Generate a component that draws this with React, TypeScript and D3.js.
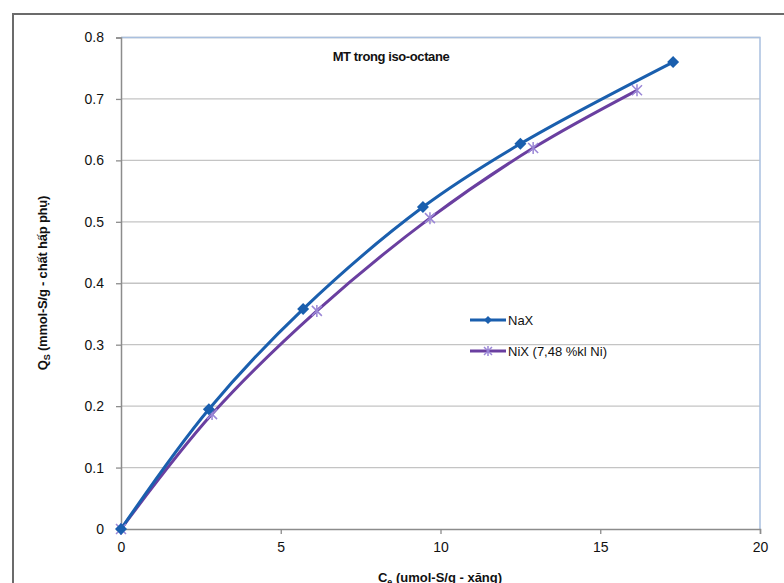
import React, { useRef, useEffect } from 'react';
import * as d3 from 'd3';

// values
const naxX = [0, 2.75, 5.7, 9.45, 12.5, 17.28];
const naxY = [0, 0.195, 0.358, 0.524, 0.627, 0.76];
const nixX = [0, 2.85, 6.13, 9.67, 12.9, 16.15];
const nixY = [0, 0.187, 0.355, 0.506, 0.62, 0.714];
const xTicks = [0, 5, 10, 15, 20];
const yTicks = [0, 0.1, 0.2, 0.3, 0.4, 0.5, 0.6, 0.7, 0.8];
const seriesNames = ['NaX', 'NiX (7,48 %kl Ni)'];

const App = () => {
  const svgRef = useRef<SVGSVGElement>(null);

  useEffect(() => {
    const width = 784;
    const height = 583;
    const svg = d3.select(svgRef.current);
    svg.selectAll('*').remove();
    svg.attr('width', width).attr('height', height).style('background', '#fff');

    const font = 'Arial, "Liberation Sans", sans-serif';

    // outer chart frame (runs off the right and bottom)
    svg.append('rect')
      .attr('x', 13).attr('y', 14)
      .attr('width', 800).attr('height', 600)
      .attr('fill', '#fff')
      .attr('stroke', '#6b6b6b')
      .attr('stroke-width', 2);

    const left = 121, right = 760, top = 37.5, bottom = 529;

    const x = d3.scaleLinear().domain([0, 20]).range([left, right]);
    const y = d3.scaleLinear().domain([0, 0.8]).range([bottom, top]);

    // gridlines
    svg.append('g')
      .selectAll('line')
      .data(yTicks.slice(1))
      .join('line')
      .attr('x1', left).attr('x2', right)
      .attr('y1', d => y(d)).attr('y2', d => y(d))
      .attr('stroke', '#c4c4c4')
      .attr('stroke-width', 1.3);

    // plot area border (top/right light blue)
    svg.append('path')
      .attr('d', `M${left},${top}H${right}V${bottom}`)
      .attr('fill', 'none')
      .attr('stroke', '#a9c0df')
      .attr('stroke-width', 1.5);

    // axes
    const xAxis = d3.axisBottom(x).tickValues(xTicks).tickSize(5).tickPadding(8).tickFormat(d3.format('d'));
    const yAxis = d3.axisLeft(y).tickValues(yTicks).tickSize(5).tickPadding(12).tickFormat(d => (d === 0 ? '0' : d3.format('.1f')(d as number)));

    const gx = svg.append('g').attr('transform', `translate(0,${bottom})`).call(xAxis);
    const gy = svg.append('g').attr('transform', `translate(${left},0)`).call(yAxis);
    [gx, gy].forEach(g => {
      g.select('.domain').attr('stroke', '#8c8c8c').attr('stroke-width', 1.5);
      g.selectAll('.tick line').attr('stroke', '#8c8c8c').attr('stroke-width', 1.3);
      g.selectAll('.tick text')
        .attr('font-family', font)
        .attr('font-size', 14)
        .attr('fill', '#111');
    });

    // series
    const line = d3.line<[number, number]>()
      .x(d => x(d[0]))
      .y(d => y(d[1]))
      .curve(d3.curveCatmullRom.alpha(0.5));

    const nax: [number, number][] = naxX.map((v, i) => [v, naxY[i]]);
    const nix: [number, number][] = nixX.map((v, i) => [v, nixY[i]]);

    const naxColor = '#1a5fae';
    const nixColor = '#6a3fa0';
    const nixMarker = '#9a86d6';

    svg.append('path').datum(nix).attr('d', line)
      .attr('fill', 'none').attr('stroke', nixColor).attr('stroke-width', 3);
    svg.append('path').datum(nax).attr('d', line)
      .attr('fill', 'none').attr('stroke', naxColor).attr('stroke-width', 3);

    const star = (g: d3.Selection<SVGGElement, unknown, null, undefined>, cx: number, cy: number, s: number) => {
      g.append('path')
        .attr('d', `M${cx - s},${cy - s}L${cx + s},${cy + s}M${cx - s},${cy + s}L${cx + s},${cy - s}M${cx},${cy - s - 1}V${cy + s + 1}`)
        .attr('stroke', nixMarker)
        .attr('stroke-width', 1.5)
        .attr('fill', 'none');
    };

    const nixG = svg.append('g');
    nix.forEach(d => star(nixG, x(d[0]), y(d[1]), 5));

    svg.append('g')
      .selectAll('path')
      .data(nax)
      .join('path')
      .attr('transform', d => `translate(${x(d[0])},${y(d[1])})`)
      .attr('d', 'M0,-6L6,0L0,6L-6,0Z')
      .attr('fill', naxColor);

    // title
    svg.append('text')
      .attr('x', 391).attr('y', 61)
      .attr('text-anchor', 'middle')
      .attr('font-family', font)
      .attr('font-weight', 'bold')
      .attr('font-size', 13)
      .attr('letter-spacing', -0.4)
      .attr('fill', '#111')
      .text('MT trong iso-octane');

    // legend
    const legend = svg.append('g');
    const ly = [320, 351];
    legend.append('line').attr('x1', 470).attr('x2', 506).attr('y1', ly[0]).attr('y2', ly[0])
      .attr('stroke', naxColor).attr('stroke-width', 3);
    legend.append('path').attr('transform', `translate(488,${ly[0]})`).attr('d', 'M0,-4L4,0L0,4L-4,0Z').attr('fill', naxColor);
    legend.append('line').attr('x1', 470).attr('x2', 506).attr('y1', ly[1]).attr('y2', ly[1])
      .attr('stroke', nixColor).attr('stroke-width', 3);
    star(legend, 488, ly[1], 4);
    seriesNames.forEach((n, i) => {
      legend.append('text')
        .attr('x', 508).attr('y', ly[i] + 5)
        .attr('font-family', font)
        .attr('font-size', 13)
        .attr('fill', '#111')
        .text(n);
    });

    // axis titles
    const xt = svg.append('text')
      .attr('x', 440).attr('y', 582)
      .attr('text-anchor', 'middle')
      .attr('font-family', font)
      .attr('font-weight', 'bold')
      .attr('font-size', 13)
      .attr('fill', '#111');
    xt.append('tspan').text('C');
    xt.append('tspan').attr('font-size', 9).attr('dy', 3).text('e');
    xt.append('tspan').attr('dy', -3).text(' (umol-S/g - xăng)');

    const yt = svg.append('text')
      .attr('transform', 'translate(47,283) rotate(-90)')
      .attr('text-anchor', 'middle')
      .attr('font-family', font)
      .attr('font-weight', 'bold')
      .attr('font-size', 13)
      .attr('letter-spacing', -0.2)
      .attr('fill', '#111');
    yt.append('tspan').text('Q');
    yt.append('tspan').attr('font-size', 9).attr('dy', 3).text('S');
    yt.append('tspan').attr('dy', -3).text(' (mmol-S/g - chất hấp phụ)');
  }, []);

  return (
    <div style={{ position: 'absolute', left: 0, top: 0 }}>
      <svg ref={svgRef} style={{ display: 'block' }}></svg>
    </div>
  );
};

export default App;
